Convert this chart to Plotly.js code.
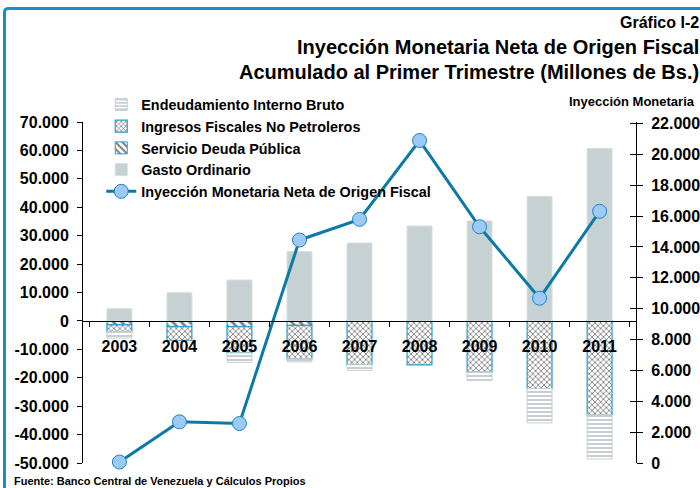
<!DOCTYPE html>
<html>
<head>
<meta charset="utf-8">
<script src="https://cdn.plot.ly/plotly-3.0.1.min.js"></script>
<style>
  html, body { margin: 0; padding: 0; background: #ffffff; }
  #wrap { position: relative; width: 700px; height: 488px; overflow: hidden; }
  #chart { width: 700px; height: 488px; }
  #frame { position: absolute; left: 3px; top: 7px; width: 720px; height: 500px;
           border-top: 3px solid #1a8fc3; border-left: 3px solid #1a8fc3;
           border-top-left-radius: 5px; pointer-events: none; }
</style>
</head>
<body>
<div id="wrap">
  <div id="chart"></div>
  <div id="frame"></div>
</div>
<script>
// ---- Data (Millones de Bs., acumulado al primer trimestre) ----
const years = ['2003', '2004', '2005', '2006', '2007', '2008', '2009', '2010', '2011'];
const gastoOrdinario      = [4300, 9900, 14400, 24400, 27400, 33400, 35200, 43800, 60700];
const servicioDeuda       = [-1400, -2000, -2000, -1600, 0, 0, 0, 0, 0];
const ingresosNoPetroleros = [-2350, -4800, -9300, -11700, -15400, -15500, -17900, -23800, -33000];
const endeudamientoInterno = [-2300, 0, -3300, -1100, -2000, 0, -3100, -12100, -15600];
const inyeccionNeta       = [60, 2670, 2560, 14450, 15790, 20900, 15310, 10680, 16310];

const leftTickVals  = [-50000, -40000, -30000, -20000, -10000, 0, 10000, 20000, 30000, 40000, 50000, 60000, 70000];
const leftTickText  = ['-50.000', '-40.000', '-30.000', '-20.000', '-10.000', '0', '10.000', '20.000', '30.000', '40.000', '50.000', '60.000', '70.000'];
const rightTickVals = [0, 2000, 4000, 6000, 8000, 10000, 12000, 14000, 16000, 18000, 20000, 22000];
const rightTickText = ['0', '2.000', '4.000', '6.000', '8.000', '10.000', '12.000', '14.000', '16.000', '18.000', '20.000', '22.000'];

const FONT = 'Liberation Sans, Arial, Helvetica, sans-serif';
const NARROW = 'Liberation Sans Narrow, Arial Narrow, Liberation Sans, Arial, sans-serif';
const BLUE_OUT = '#2a9cd0';

const traces = [
  {
    type: 'bar', x: years, y: servicioDeuda, name: 'Servicio Deuda Pública', legendrank: 3,
    marker: { color: '#ffffff', line: { color: BLUE_OUT, width: 1 },
              pattern: { shape: '\\', fgcolor: '#808080', bgcolor: '#ffffff', size: 6, solidity: 0.45 } }
  },
  {
    type: 'bar', x: years, y: ingresosNoPetroleros, name: 'Ingresos Fiscales No Petroleros', legendrank: 2,
    marker: { color: '#ffffff', line: { color: BLUE_OUT, width: 1.2 },
              pattern: { shape: 'x', fgcolor: '#7a7a7a', bgcolor: '#ffffff', size: 4, solidity: 0.38 } }
  },
  {
    type: 'bar', x: years, y: endeudamientoInterno, name: 'Endeudamiento Interno Bruto', legendrank: 1,
    marker: { color: '#ffffff', line: { color: '#c6cfd0', width: 1 },
              pattern: { shape: '-', fgcolor: '#c6cfd0', bgcolor: '#ffffff', size: 4, solidity: 0.5 } }
  },
  {
    type: 'bar', x: years, y: gastoOrdinario, name: 'Gasto Ordinario', legendrank: 4,
    marker: { color: '#c5d1d3', line: { color: '#d6dddd', width: 1 } }
  },
  {
    type: 'scatter', mode: 'lines+markers', x: years, y: inyeccionNeta, yaxis: 'y2',
    name: 'Inyección Monetaria Neta de Origen Fiscal', legendrank: 5, cliponaxis: false,
    line: { color: '#0b7ba6', width: 3 },
    marker: { size: 14, color: '#9ccaf6', line: { color: '#1e82c2', width: 1 } }
  }
];

const layout = {
  width: 700, height: 488,
  margin: { l: 83, r: 64, t: 122, b: 25, pad: 0 },
  paper_bgcolor: '#ffffff', plot_bgcolor: 'rgba(0,0,0,0)',
  separators: ',.',
  barmode: 'relative',
  bargap: 0.585,
  showlegend: true,
  font: { family: FONT, color: '#000000', weight: 'bold' },
  legend: {
    x: 0.033, y: 1.098, xanchor: 'left', yanchor: 'top',
    traceorder: 'normal', bgcolor: 'rgba(0,0,0,0)', borderwidth: 0,
    font: { family: FONT, size: 14.4, color: '#000000', weight: 'bold' },
    itemwidth: 30
  },
  xaxis: {
    type: 'category', anchor: 'free', position: 50000 / 120000,
    showline: true, linecolor: '#000000', linewidth: 1.2,
    ticks: 'outside', ticklen: 5, tickwidth: 1, tickcolor: '#000000', tickson: 'boundaries',
    tickfont: { family: FONT, size: 16, color: '#000000', weight: 'bold' },
    ticklabelstandoff: 11,
    showgrid: false, zeroline: false, fixedrange: true
  },
  yaxis: {
    range: [-50000, 70000], tickvals: leftTickVals, ticktext: leftTickText,
    showline: true, linecolor: '#000000', linewidth: 1,
    ticks: 'outside', ticklen: 5, tickcolor: '#000000',
    tickfont: { family: FONT, size: 16, color: '#000000', weight: 'bold' },
    ticklabelstandoff: 5,
    showgrid: false, zeroline: false, fixedrange: true
  },
  yaxis2: {
    overlaying: 'y', side: 'right', anchor: 'x',
    range: [0, 22100], tickvals: rightTickVals, ticktext: rightTickText,
    showline: true, linecolor: '#000000', linewidth: 1,
    ticks: 'outside', ticklen: 6, tickcolor: '#000000',
    tickfont: { family: FONT, size: 16, color: '#000000', weight: 'bold' },
    ticklabelstandoff: 5,
    showgrid: false, zeroline: false, fixedrange: true
  },
  yaxis3: {
    overlaying: 'y', side: 'right', anchor: 'x',
    range: [0, 22100], tickvals: rightTickVals,
    showline: false, ticks: 'inside', ticklen: 6, tickcolor: '#000000',
    showticklabels: false, showgrid: false, zeroline: false, fixedrange: true
  },
  annotations: [
    { xref: 'paper', yref: 'paper', x: 1.1175, y: 1.2919, xanchor: 'right', yanchor: 'middle',
      text: 'Gráfico I-2', showarrow: false,
      font: { family: NARROW, size: 16, color: '#000000', weight: 'bold' } },
    { xref: 'paper', yref: 'paper', x: 1.1175, y: 1.2187, xanchor: 'right', yanchor: 'middle',
      text: 'Inyección Monetaria Neta de Origen Fiscal', showarrow: false,
      font: { family: NARROW, size: 20, color: '#000000', weight: 'bold' } },
    { xref: 'paper', yref: 'paper', x: 1.1175, y: 1.1455, xanchor: 'right', yanchor: 'middle',
      text: 'Acumulado al Primer Trimestre (Millones de Bs.)', showarrow: false,
      font: { family: NARROW, size: 20, color: '#000000', weight: 'bold' } },
    { xref: 'paper', yref: 'paper', x: 1.1103, y: 1.061, xanchor: 'right', yanchor: 'middle',
      text: 'Inyección Monetaria', showarrow: false,
      font: { family: FONT, size: 13, color: '#000000', weight: 'bold' } },
    { xref: 'paper', yref: 'paper', x: -0.1284, y: -0.052, xanchor: 'left', yanchor: 'middle',
      text: 'Fuente: Banco Central de Venezuela y Cálculos Propios', showarrow: false,
      font: { family: FONT, size: 11, color: '#000000', weight: 'bold' } }
  ]
};

// dummy trace to activate yaxis3 (inside ticks on right axis)
traces.push({ type: 'scatter', x: [years[0]], y: [0], yaxis: 'y3', mode: 'markers',
              marker: { opacity: 0 }, showlegend: false, hoverinfo: 'skip' });

Plotly.newPlot('chart', traces, layout, { displayModeBar: false, staticPlot: true });
</script>
</body>
</html>
